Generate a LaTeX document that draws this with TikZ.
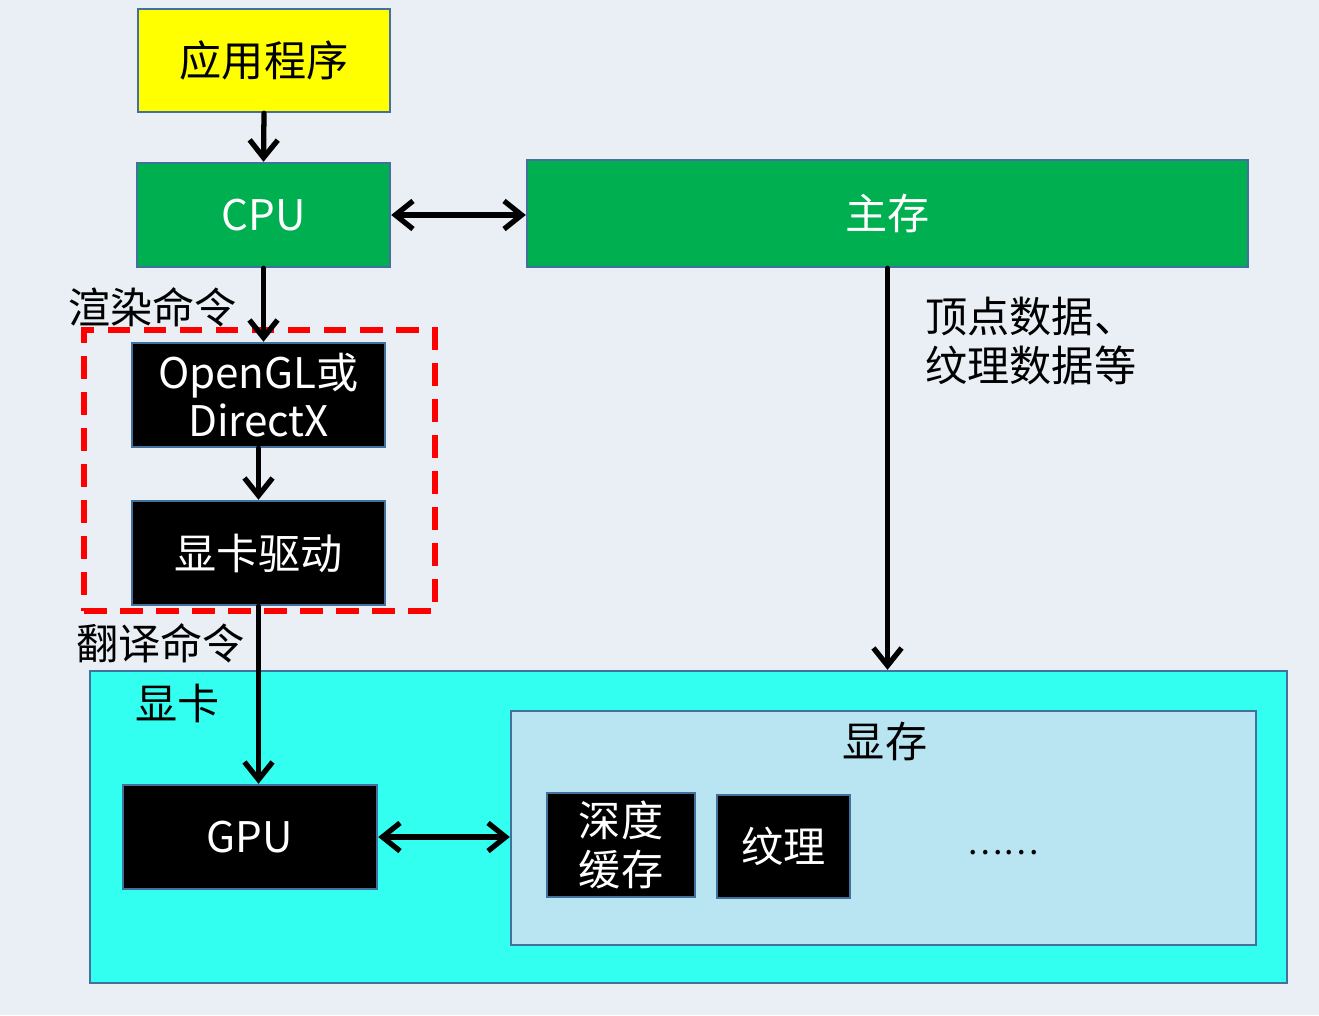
\documentclass[tikz,border=0pt]{standalone}
\usepackage{fontspec}
\setmainfont{Noto Sans CJK SC}
\usetikzlibrary{arrows.meta}

\definecolor{boxline}{HTML}{41719C}
\definecolor{appyellow}{HTML}{FFFF00}
\definecolor{hostgreen}{HTML}{00B050}
\definecolor{cardcyan}{HTML}{33FFF0}
\definecolor{vramblue}{HTML}{B9E4F1}
\definecolor{bgfill}{HTML}{E9EFF4}

\tikzset{
  box/.style={draw=boxline, line width=1.4pt, inner sep=0pt, align=center,
    font=\fontsize{24}{27.5}\selectfont},
  blackbox/.style={box, fill=black, text=white},
  label/.style={font=\fontsize{24}{27.5}\selectfont, inner sep=0pt},
  arr/.style={line width=3pt, line cap=round, -{Straight Barb[length=10pt,width=16pt]}},
  biarr/.style={arr, {Straight Barb[length=10pt,width=16pt]}-{Straight Barb[length=10pt,width=16pt]}}
}

\begin{document}
\begin{tikzpicture}[x=0.02cm,y=-0.02cm]
  \fill[bgfill] (0,0) rectangle (1319,1015);
  % graphics card and its memory
  \node[box, fill=cardcyan, minimum width=23.94cm, minimum height=6.24cm] at (688.5,827) (card) {};
  \node[box, fill=vramblue, minimum width=14.9cm, minimum height=4.68cm] at (883.5,828) (vram) {};
  % host side
  \node[box, fill=appyellow, minimum width=5.04cm, minimum height=2.06cm] at (264,60.5) (app) {应用程序};
  \node[box, fill=hostgreen, text=white, minimum width=5.06cm, minimum height=2.08cm] at (263.5,215) (cpu) {CPU};
  \node[box, fill=hostgreen, text=white, minimum width=14.42cm, minimum height=2.14cm] at (887.5,213.5) (mem) {主存};
  % driver stack
  \node[draw=red, dash pattern=on 13pt off 7.5pt, line width=3.6pt, minimum width=7.02cm, minimum height=5.62cm] at (259.5,470.5) (stack) {};
  \node[blackbox, minimum width=5.06cm, minimum height=2.08cm] at (258.5,395) (api) {OpenGL或\\DirectX};
  \node[blackbox, minimum width=5.06cm, minimum height=2.08cm] at (258.5,553) (drv) {显卡驱动};
  % inside the card
  \node[blackbox, minimum width=5.08cm, minimum height=2.08cm] at (250,837) (gpu) {GPU};
  \node[blackbox, minimum width=2.96cm, minimum height=2.08cm] at (621,845) (depth) {深度\\缓存};
  \node[blackbox, minimum width=2.66cm, minimum height=2.06cm] at (783.5,846.5) (tex) {纹理};
  \node[label, font=\fontsize{19}{22}\selectfont] at (1003,853) (more) {……};
  % labels
  \node[label, anchor=west] at (68,307) (render) {渲染命令};
  \node[label, anchor=west] at (76,643) (translate) {翻译命令};
  \node[label, anchor=west] at (135,703) (cardlbl) {显卡};
  \node[label] at (885,741) (vramlbl) {显存};
  \node[label, anchor=north west, align=left] at (925,297) (data) {顶点数据、\\纹理数据等};
  % connectors
  \draw[arr] (app.south) -- (cpu.north);
  \draw[biarr] (cpu.east) -- (cpu.east -| mem.west);
  \draw[arr] (cpu.south) -- (cpu.south |- api.north);
  \draw[arr] (api.south) -- (drv.north);
  \draw[arr] (drv.south) -- (drv.south |- gpu.north);
  \draw[arr] (mem.south) -- (mem.south |- card.north);
  \draw[biarr] (gpu.east) -- (gpu.east -| vram.west);
\end{tikzpicture}
\end{document}
